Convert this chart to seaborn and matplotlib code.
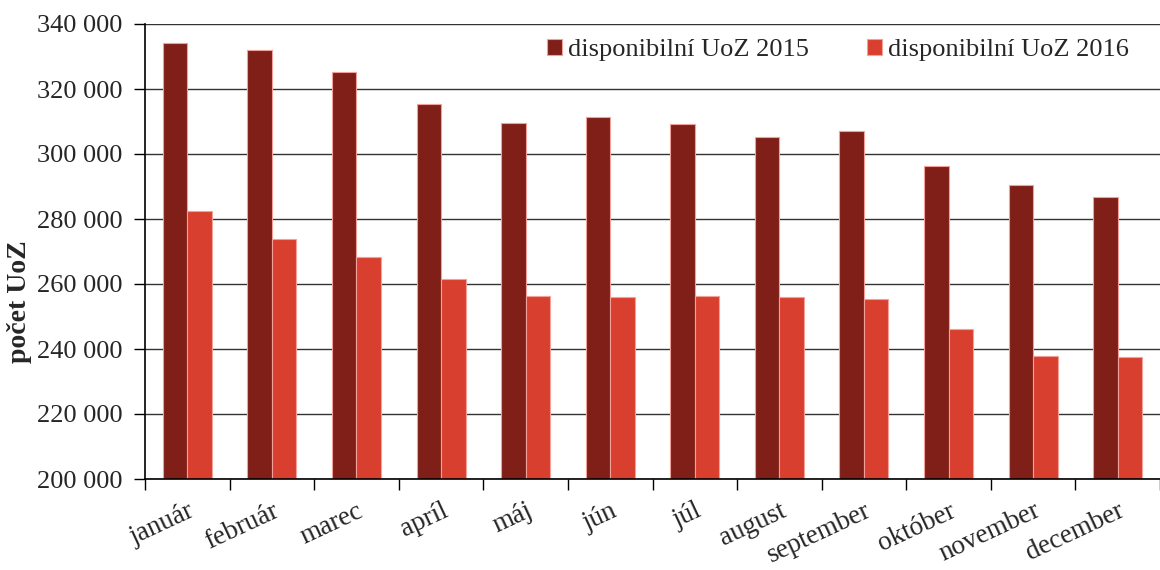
import matplotlib
matplotlib.use("Agg")
import matplotlib.pyplot as plt
import matplotlib.ticker as mticker
import seaborn as sns
import pandas as pd
import numpy as np

months = ["január", "február", "marec", "apríl", "máj", "jún", "júl",
          "august", "september", "október", "november", "december"]
uoz_2015 = [334300, 332000, 325200, 315400, 309500, 311400, 309200,
            305200, 307100, 296300, 290500, 286800]
uoz_2016 = [282400, 273900, 268300, 261600, 256400, 256100, 256200,
            255900, 255500, 246200, 238000, 237600]
series_names = ["disponibilní UoZ 2015", "disponibilní UoZ 2016"]
y_ticks = list(range(200000, 340001, 20000))

df = pd.DataFrame({
    "mesiac": months * 2,
    "hodnota": uoz_2015 + uoz_2016,
    "séria": [series_names[0]] * 12 + [series_names[1]] * 12,
})

sns.set_style("white")
plt.rcParams["font.family"] = ["Liberation Serif", "DejaVu Serif"]

fig = plt.figure(figsize=(11.6, 5.7), dpi=100)
ax = fig.add_axes([145 / 1160, 1 - 479 / 570, 1 - 145 / 1160, (479 - 24) / 570])

sns.barplot(data=df, x="mesiac", y="hodnota", hue="séria", order=months,
            hue_order=series_names, palette=["#7F1F17", "#D83F2E"],
            width=0.58, edgecolor="#F2A09A", linewidth=0.8, ax=ax,
            saturation=1)

ax.set_ylim(200000, 340000)
ax.set_xlim(-0.5, 11.5)
ax.set_yticks(y_ticks)
ax.yaxis.set_major_formatter(mticker.FuncFormatter(lambda v, p: f"{int(v):,}".replace(",", " ")))
ax.yaxis.grid(True, color="#333333", linewidth=1.0)
ax.set_axisbelow(True)

for s in ["top", "right"]:
    ax.spines[s].set_visible(False)
for s in ["left", "bottom"]:
    ax.spines[s].set_color("black")
    ax.spines[s].set_linewidth(1.2)

FS = 19
ax.tick_params(axis="y", which="major", direction="out", length=8, width=1,
               color="black", labelsize=FS, pad=8, left=True)
ax.set_xticks(np.arange(12))
ax.set_xticklabels(months, rotation=25, ha="right", rotation_mode="anchor")
ax.tick_params(axis="x", which="major", length=0, labelsize=19.5, pad=14)
ax.set_xticks(np.arange(-0.5, 12, 1), minor=True)
ax.tick_params(axis="x", which="minor", direction="out", length=8, width=1,
               color="black", bottom=True)

ax.set_xlabel("")
ax.set_ylabel("počet UoZ", fontsize=20, fontweight="bold")
ax.yaxis.set_label_coords(-0.111, 0.39)

leg = ax.legend(loc="upper right", ncol=2, frameon=False, fontsize=FS,
                bbox_to_anchor=(0.993, 1.02), handlelength=0.55, handleheight=0.55,
                handletextpad=0.25, columnspacing=2.2)

fig.savefig("out.png", dpi=100)
